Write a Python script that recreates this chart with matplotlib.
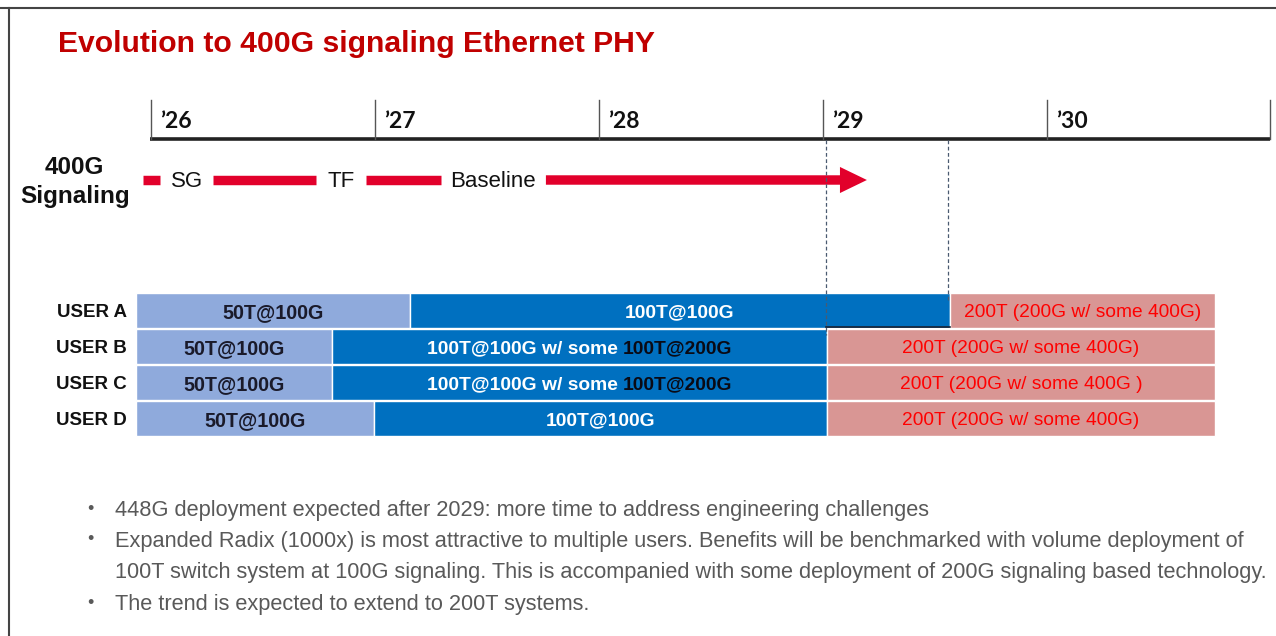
import matplotlib
matplotlib.use("Agg")
import matplotlib.pyplot as plt
from matplotlib.lines import Line2D

# ---------------- data ----------------
title = "Evolution to 400G signaling Ethernet PHY"
year_labels = ["\u201926", "\u201927", "\u201928", "\u201929", "\u201930"]
year_vals = [2026, 2027, 2028, 2029, 2030]
timeline_end = 2030.995

signal_label = ["400G", "Signaling"]
stage_labels = ["SG", "TF", "Baseline"]
stage_label_x = [2026.161, 2026.848, 2027.527]
arrow_seg_start = [2025.964, 2026.277, 2026.960, 2027.763]
arrow_seg_end = [2026.040, 2026.737, 2027.295, 2029.196]  # last one is the arrow tip

dashed_x = [2029.013, 2029.558]

users = ["USER A", "USER B", "USER C", "USER D"]
bar_start = 2025.933
light_end = [2027.156, 2026.808, 2026.808, 2026.996]
dark_end = [2029.567, 2029.018, 2029.018, 2029.018]
bar_end = 2030.750
light_labels = ["50T@100G", "50T@100G", "50T@100G", "50T@100G"]
dark_labels = [("100T@100G", ""), ("100T@100G w/ some ", "100T@200G"),
               ("100T@100G w/ some ", "100T@200G"), ("100T@100G", "")]
pink_labels = ["200T (200G w/ some 400G)", "200T (200G w/ some 400G)",
               "200T (200G w/ some 400G )", "200T (200G w/ some 400G)"]

bullets = [
    ["448G deployment expected after 2029: more time to address engineering challenges"],
    ["Expanded Radix (1000x) is most attractive to multiple users. Benefits will be benchmarked with volume deployment of",
     "100T switch system at 100G signaling. This is accompanied with some deployment of 200G signaling based technology."],
    ["The trend is expected to extend to 200T systems."],
]

# ---------------- styling ----------------
RED_TITLE = "#C00000"
RED_ARROW = "#E2002B"
LIGHT_BLUE = "#8FAADC"
DARK_BLUE = "#0070C0"
PINK = "#D99694"
PINK_TEXT = "#FF0000"
GRAY_TEXT = "#595959"
FONT = "Liberation Sans"
DY = 2.5  # visual centring offset for text (pixels)

W, H = 1276, 636
fig = plt.figure(figsize=(W / 100, H / 100), dpi=100)
ax = fig.add_axes([0, 0, 1, 1])
px_per_year = 224.0
x_left = 2026 - 151 / px_per_year
ax.set_xlim(x_left, x_left + W / px_per_year)
ax.set_ylim(H, 0)
ax.axis("off")

def px(x):
    return x_left + x / px_per_year

# frame (top and left)
fig.add_artist(Line2D([0, 1], [1 - 7.5 / H, 1 - 7.5 / H], color="#444444", lw=1.5))
fig.add_artist(Line2D([9 / W, 9 / W], [0, 1 - 7.5 / H], color="#444444", lw=1.5))

# title
ax.text(px(58), 42 + DY, title, fontsize=21.7, fontweight="bold", color=RED_TITLE,
        family=FONT, ha="left", va="center")

# timeline
y_base = 139
ax.plot([year_vals[0] - 0.004, timeline_end], [y_base, y_base], color="#222222",
        lw=2.6, solid_capstyle="butt")
for xv, lab in zip(year_vals + [timeline_end], year_labels + [None]):
    ax.plot([xv, xv], [100, y_base], color="#555555", lw=1.0)
    if lab:
        ax.text(xv + 9 / px_per_year, 119 + DY, lab, fontsize=16.5, fontweight="bold",
                family="Lato", ha="left", va="center", color="#111111")

# 400G signaling label
ax.text(px(74), 165 + DY, signal_label[0], fontsize=17.5, fontweight="bold", family=FONT,
        ha="center", va="center", color="#111111")
ax.text(px(75), 194 + DY, signal_label[1], fontsize=17.5, fontweight="bold", family=FONT,
        ha="center", va="center", color="#111111")

# arrow segments
y_arrow = 180
for s, e in zip(arrow_seg_start[:-1], arrow_seg_end[:-1]):
    ax.plot([s, e], [y_arrow, y_arrow], color=RED_ARROW, lw=6.8, solid_capstyle="butt")
ax.annotate("", xy=(arrow_seg_end[-1], y_arrow), xytext=(arrow_seg_start[-1], y_arrow),
            arrowprops=dict(arrowstyle="simple,head_length=0.97,head_width=0.94,tail_width=0.34",
                            mutation_scale=20, color=RED_ARROW, lw=0,
                            shrinkA=0, shrinkB=0))
for xl, lab in zip(stage_label_x, stage_labels):
    ax.text(xl, y_arrow + DY - 1, lab, fontsize=16, family=FONT, ha="center", va="center",
            color="#111111")

# dashed guides
ax.plot([dashed_x[0]] * 2, [y_base + 1, 335], color="#4a5a70", lw=0.9, ls=(0, (3, 2)), zorder=5)
ax.plot([dashed_x[1]] * 2, [y_base + 1, 300], color="#4a5a70", lw=0.9, ls=(0, (3, 2)), zorder=5)

# bars
row_y = [310 + 36 * i for i in range(len(users))]
bh = 35
renderer = fig.canvas.get_renderer()
for i, y in enumerate(row_y):
    ax.barh(y, light_end[i] - bar_start, left=bar_start, height=bh, color=LIGHT_BLUE,
            edgecolor="white", lw=1.0)
    ax.barh(y, dark_end[i] - light_end[i], left=light_end[i], height=bh, color=DARK_BLUE,
            edgecolor="white", lw=1.0)
    ax.barh(y, bar_end - dark_end[i], left=dark_end[i], height=bh, color=PINK,
            edgecolor="white", lw=1.0)
    yt = y + DY
    ax.text(bar_start - 9 / px_per_year, yt, users[i], fontsize=13.5, fontweight="bold",
            family=FONT, ha="right", va="center", color="#111111")
    ax.text((bar_start + light_end[i]) / 2, yt, light_labels[i], fontsize=14.2,
            fontweight="bold", family=FONT, ha="center", va="center", color="#1a1a2a")
    ax.text((dark_end[i] + bar_end) / 2, yt, pink_labels[i], fontsize=13.8,
            family=FONT, ha="center", va="center", color=PINK_TEXT)
    # two-colour label on dark bar
    p1, p2 = dark_labels[i]
    cx = (light_end[i] + dark_end[i]) / 2
    t1 = ax.text(0, yt, p1, fontsize=13.9, fontweight="bold", family=FONT,
                 ha="left", va="center", color="white")
    if p2:
        t2 = ax.text(0, yt, p2, fontsize=13.9, fontweight="bold", family=FONT,
                     ha="left", va="center", color="#0a0a14")
        w1 = t1.get_window_extent(renderer).width / px_per_year
        w2 = t2.get_window_extent(renderer).width / px_per_year
        x0 = cx - (w1 + w2) / 2
        t1.set_x(x0)
        t2.set_x(x0 + w1)
    else:
        t1.set_x(cx)
        t1.set_ha("center")

# dark underline of USER A blue bar beyond '29 guide
ax.plot([dashed_x[0], dark_end[0]], [row_y[0] + bh / 2 - 0.5] * 2, color="#1a2233", lw=1.2)

# bullets
bullet_line_y = [[508], [539, 570], [602]]
for lines, ys in zip(bullets, bullet_line_y):
    ax.text(px(90), ys[0] + 1, "\u2022", fontsize=13, family=FONT, ha="center", va="center",
            color=GRAY_TEXT)
    for txt, yl in zip(lines, ys):
        ax.text(px(115), yl + DY, txt, fontsize=15.7, family=FONT, ha="left", va="center",
                color=GRAY_TEXT)

fig.savefig("out.png", dpi=100)
